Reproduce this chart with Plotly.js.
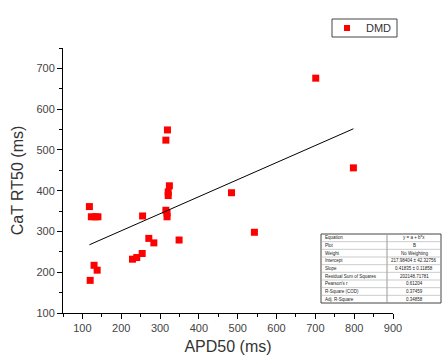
<!DOCTYPE html>
<html>
<head>
<meta charset="utf-8">
<script src="https://cdn.plot.ly/plotly-3.0.1.min.js"></script>
<style>html,body{margin:0;padding:0;background:#fff;}#chart{width:442px;height:362px;}</style>
</head>
<body>
<div id="chart"></div>
<script>
// Data
const apd50 = [118,123,133,140,130,138,120,229,240,254,255,271,284,315,318,318,321,321,324,349,484,543,319,315,701,798];
const catRt50 = [361,336,336,336,217,205,180,232,236,246,338,283,272,352,345,336,388,397,412,279,395,298,549,524,676,456];
const seriesName = "DMD";
const fitIntercept = 217.98404;
const fitSlope = 0.41835;
const statLabels = ["Equation","Plot","Weight","Intercept","Slope","Residual Sum of Squares","Pearson's r","R-Square (COD)","Adj. R-Square"];
const statValues = ["y = a + b*x","B","No Weighting","217.98404 ± 42.32756","0.41835 ± 0.11858","202148.71781","0.61204","0.37459","0.34858"];

const xMin = Math.min(...apd50), xMax = Math.max(...apd50);
const fitX = [xMin, xMax];
const fitY = fitX.map(v => fitIntercept + fitSlope * v);

const traces = [
  {x: apd50, y: catRt50, type: 'scatter', mode: 'markers', name: seriesName,
   marker: {symbol: 'square', size: 7, color: '#ff0000'}},
  {x: fitX, y: fitY, type: 'scatter', mode: 'lines', showlegend: false,
   line: {color: '#000000', width: 1}, hoverinfo: 'skip'}
];

const plotL = 63, plotR = 393, plotT = 48, plotB = 313;
const pw = plotR - plotL, ph = plotB - plotT;
const px = v => (v - plotL) / pw;
const py = v => (plotB - v) / ph;
const tL = 321, tR = 441, tT = 234, tB = 303, tMid = 387;
const rowH = (tB - tT) / statLabels.length;
const shapes = [
  {type:'rect', xref:'paper', yref:'paper', x0:px(tL), x1:px(tR), y0:py(tB), y1:py(tT), line:{color:'#444', width:1}, fillcolor:'#ffffff', layer:'above'},
  {type:'line', xref:'paper', yref:'paper', x0:px(tMid), x1:px(tMid), y0:py(tB), y1:py(tT), line:{color:'#999', width:1}, layer:'above'},
  // legend box and symbol
  {type:'rect', xref:'paper', yref:'paper', x0:px(332), x1:px(397), y0:py(37), y1:py(19), line:{color:'#444', width:1}, fillcolor:'#ffffff', layer:'above'},
  {type:'rect', xref:'paper', yref:'paper', x0:px(344), x1:px(350), y0:py(31), y1:py(25), line:{width:0}, fillcolor:'#ff0000', layer:'above'}
];
const annotations = [
  {xref:'paper', yref:'paper', x:px(364), y:py(28), xanchor:'left', yanchor:'middle', text:seriesName, showarrow:false, font:{family:'Liberation Sans, Arial', size:11, color:'#333'}}
];
statLabels.forEach((lab, i) => {
  const yTop = tT + i * rowH;
  if (i > 0) shapes.push({type:'line', xref:'paper', yref:'paper', x0:px(tL), x1:px(tR), y0:py(yTop), y1:py(yTop), line:{color:'#aaa', width:0.6}, layer:'above'});
  const yc = py(yTop + rowH / 2);
  annotations.push({xref:'paper', yref:'paper', x:px(tL + 2), y:yc, xanchor:'left', yanchor:'middle', text:lab, showarrow:false, font:{family:'Liberation Sans, Arial', size:4.5, color:'#222'}});
  annotations.push({xref:'paper', yref:'paper', x:px((tMid + tR) / 2), y:yc, xanchor:'center', yanchor:'middle', text:statValues[i], showarrow:false, font:{family:'Liberation Sans, Arial', size:4.5, color:'#222'}});
});

const axisCommon = {
  showgrid: false, zeroline: false, showline: true, linecolor: '#000', linewidth: 1,
  ticks: 'outside', ticklen: 5, tickwidth: 1, tickcolor: '#000',
  tickfont: {family: 'Liberation Sans, Arial', size: 11, color: '#444'},
  mirror: false
};

const layout = {
  width: 442, height: 362,
  margin: {l: plotL, r: 442 - plotR, t: plotT, b: 362 - plotB},
  paper_bgcolor: '#fff', plot_bgcolor: '#fff',
  xaxis: Object.assign({}, axisCommon, {
    range: [50, 900], tick0: 0, dtick: 100,
    minor: {dtick: 50, tick0: 0, ticks: 'outside', ticklen: 3, tickcolor: '#000'},
    title: {text: 'APD50 (ms)', font: {family: 'Liberation Sans, Arial', size: 16, color: '#333'}, standoff: 7}
  }),
  yaxis: Object.assign({}, axisCommon, {
    range: [100, 750], tick0: 0, dtick: 100,
    minor: {dtick: 50, tick0: 0, ticks: 'outside', ticklen: 3, tickcolor: '#000'},
    title: {text: 'CaT RT50 (ms)', font: {family: 'Liberation Sans, Arial', size: 16, color: '#333'}, standoff: 8}
  }),
  showlegend: false,
  shapes: shapes,
  annotations: annotations
};

Plotly.newPlot('chart', traces, layout, {displayModeBar: false, staticPlot: true});
</script>
</body>
</html>
